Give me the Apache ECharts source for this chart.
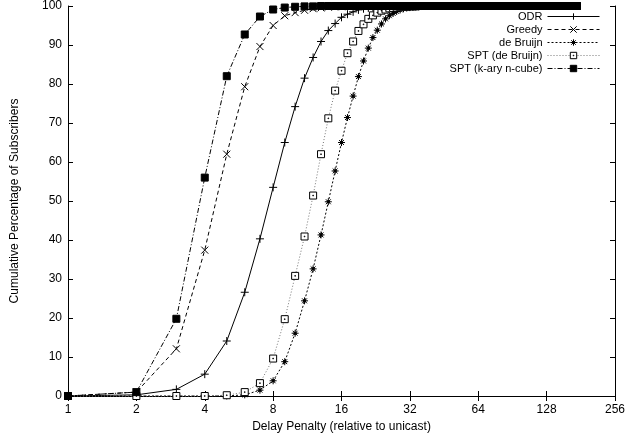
<!DOCTYPE html>
<html>
<head>
<meta charset="utf-8">
<script src="https://cdn.jsdelivr.net/npm/echarts@6/dist/echarts.min.js"></script>
<style>
  html, body { margin: 0; padding: 0; background: #fff; }
  #chart-container { width: 640px; height: 438px; }
</style>
</head>
<body>
<div id="chart-container"></div>
<script>
// cumulative % of subscribers at delay penalty 1, 2, 3, ...
const odrHead = [0, 0.3, 1.7, 5.6, 14.1, 26.6, 40.3, 53.5, 65.0, 74.2, 81.5, 86.8, 90.9, 93.7, 95.5, 97.1, 97.9, 98.5, 99.0, 99.3, 99.5, 99.6, 99.7, 99.8, 99.8, 99.9, 99.9, 99.9, 99.9];
const greedyHead = [0, 1.0, 12.1, 37.4, 62.0, 79.3, 89.6, 95.0, 97.5, 98.3, 98.9, 99.3, 99.5, 99.7, 99.8, 99.8, 99.9, 99.9];
const deBruijnHead = [0, 0, 0, 0, 0, 0.3, 1.5, 3.9, 8.8, 16.1, 24.4, 32.6, 41.3, 49.8, 57.7, 65.0, 71.4, 76.9, 81.9, 85.9, 89.2, 91.9, 93.8, 95.4, 96.7, 97.5, 98.1, 98.6, 99.0, 99.3, 99.5, 99.6, 99.7, 99.8, 99.8, 99.9, 99.9, 99.9, 99.9];
const sptDeBruijnHead = [0, 0, 0, 0, 0.2, 1.0, 3.3, 9.6, 19.7, 30.8, 40.9, 51.4, 62.0, 71.2, 78.3, 83.4, 87.9, 90.9, 93.6, 95.3, 96.7, 97.6, 98.3, 98.8, 99.1, 99.4, 99.5, 99.6, 99.7, 99.8, 99.8, 99.9, 99.9, 99.9];
const sptKaryHead = [0, 1.0, 19.8, 56.0, 82.0, 92.7, 97.3, 99.1, 99.6, 99.8, 99.9, 99.9];

// everyone is served once the curves flatten out at the top
const plateau = [
  100, 100, 100, 100, 100, 100, 100, 100, 100, 100,
  100, 100, 100, 100, 100, 100, 100, 100, 100, 100,
  100, 100, 100, 100, 100, 100, 100, 100, 100, 100,
  100, 100, 100, 100, 100, 100, 100, 100, 100, 100,
  100, 100, 100, 100, 100, 100, 100, 100, 100, 100,
  100, 100, 100, 100, 100, 100, 100, 100, 100, 100,
  100, 100, 100, 100, 100, 100, 100, 100, 100, 100,
  100, 100, 100, 100, 100, 100, 100, 100, 100, 100,
  100, 100, 100, 100, 100, 100, 100, 100, 100, 100,
  100, 100, 100, 100, 100, 100, 100, 100, 100, 100,
  100, 100, 100, 100, 100, 100, 100, 100, 100, 100,
  100, 100, 100, 100, 100, 100, 100, 100, 100, 100,
  100, 100, 100, 100, 100, 100, 100, 100, 100, 100,
  100, 100, 100, 100, 100, 100, 100, 100, 100, 100,
  100, 100, 100, 100, 100, 100, 100, 100, 100, 100,
  100, 100, 100, 100, 100, 100, 100, 100, 100, 100,
  100, 100, 100, 100, 100, 100, 100, 100, 100, 100
];
const lastPenalty = 174; // all runs stop at the same maximum penalty

const seriesNames = ["ODR", "Greedy", "de Bruijn", "SPT (de Bruijn)", "SPT (k-ary n-cube)"];
const xTicks = [1, 2, 4, 8, 16, 32, 64, 128, 256];

const FONT = "Liberation Sans, Arial, Helvetica, sans-serif";

// pair each value with its delay penalty (1-based position)
const toPoints = (head) =>
  head.concat(plateau.slice(0, lastPenalty - head.length)).map((v, i) => [i + 1, v]);

// gnuplot-like point types
const plusSym = "path://M0,5L10,5M5,0L5,10";
const crossSym = "path://M0,0L10,10M10,0L0,10";
const starSym = "path://M0,5L10,5M5,0L5,10M1.5,1.5L8.5,8.5M8.5,1.5L1.5,8.5M3.5,3.5h3v3h-3z";
const boxSym = "path://M0,0L10,0L10,10L0,10Z M4.5,4.5h1v1h-1z";

const makeSeries = (name, head, symbol, size, dash, lineColor, fill) => ({
  name,
  type: "line",
  data: toPoints(head),
  symbol,
  symbolSize: size,
  showSymbol: true,
  clip: false,
  lineStyle: { color: lineColor, width: 1, type: dash },
  itemStyle: { color: fill, borderColor: "#000", borderWidth: 1 },
  emphasis: { disabled: true },
  z: 2,
});

const chart = echarts.init(document.getElementById("chart-container"));

const axisLineStyle = { show: true, lineStyle: { color: "#000", width: 1 } };
const tickStyle = { show: true, inside: true, length: 5, lineStyle: { color: "#000" } };

const option = {
  animation: false,
  backgroundColor: "#fff",
  textStyle: { fontFamily: FONT },
  grid: { left: 68, right: 25, top: 6, bottom: 42 },
  legend: {
    orient: "vertical",
    right: 40,
    top: 10,
    padding: 0,
    align: "right",
    itemWidth: 52,
    itemHeight: 8,
    itemGap: 0,
    selectedMode: false,
    lineStyle: { width: 1 },
    itemStyle: { borderWidth: 1 },
    textStyle: { fontFamily: FONT, fontSize: 11, color: "#000", lineHeight: 13 },
    data: seriesNames,
  },
  xAxis: [
    {
      type: "log",
      logBase: 2,
      min: 1,
      max: 256,
      name: "Delay Penalty (relative to unicast)",
      nameLocation: "middle",
      nameGap: 16,
      nameTextStyle: { fontFamily: FONT, fontSize: 12, color: "#000" },
      axisLine: axisLineStyle,
      axisTick: tickStyle,
      minorTick: { show: false },
      splitLine: { show: false },
      axisLabel: {
        margin: 8,
        fontFamily: FONT,
        fontSize: 12,
        color: "#000",
        formatter: (v) => (xTicks.includes(Math.round(v)) ? String(Math.round(v)) : ""),
      },
    },
    {
      type: "log",
      logBase: 2,
      min: 1,
      max: 256,
      position: "top",
      axisLine: axisLineStyle,
      axisTick: tickStyle,
      splitLine: { show: false },
      axisLabel: { show: false },
    },
  ],
  yAxis: [
    {
      type: "value",
      min: 0,
      max: 100,
      interval: 10,
      name: "Cumulative Percentage of Subscribers",
      nameLocation: "middle",
      nameGap: 47,
      nameTextStyle: { fontFamily: FONT, fontSize: 12, color: "#000" },
      axisLine: axisLineStyle,
      axisTick: tickStyle,
      splitLine: { show: false },
      axisLabel: { margin: 6, fontFamily: FONT, fontSize: 12, color: "#000" },
    },
    {
      type: "value",
      min: 0,
      max: 100,
      interval: 10,
      position: "right",
      axisLine: axisLineStyle,
      axisTick: tickStyle,
      splitLine: { show: false },
      axisLabel: { show: false },
    },
  ],
  series: [
    makeSeries(seriesNames[0], odrHead, plusSym, 8, "solid", "#000", "transparent"),
    makeSeries(seriesNames[1], greedyHead, crossSym, 7, [4, 3], "#000", "transparent"),
    makeSeries(seriesNames[2], deBruijnHead, starSym, 7, [2, 2], "#000", "#000"),
    makeSeries(seriesNames[3], sptDeBruijnHead, boxSym, 7, [1, 2], "#777", "#fff"),
    makeSeries(seriesNames[4], sptKaryHead, "rect", 7, [5, 2, 1, 2], "#000", "#000"),
  ],
};

chart.setOption(option);
</script>
</body>
</html>
